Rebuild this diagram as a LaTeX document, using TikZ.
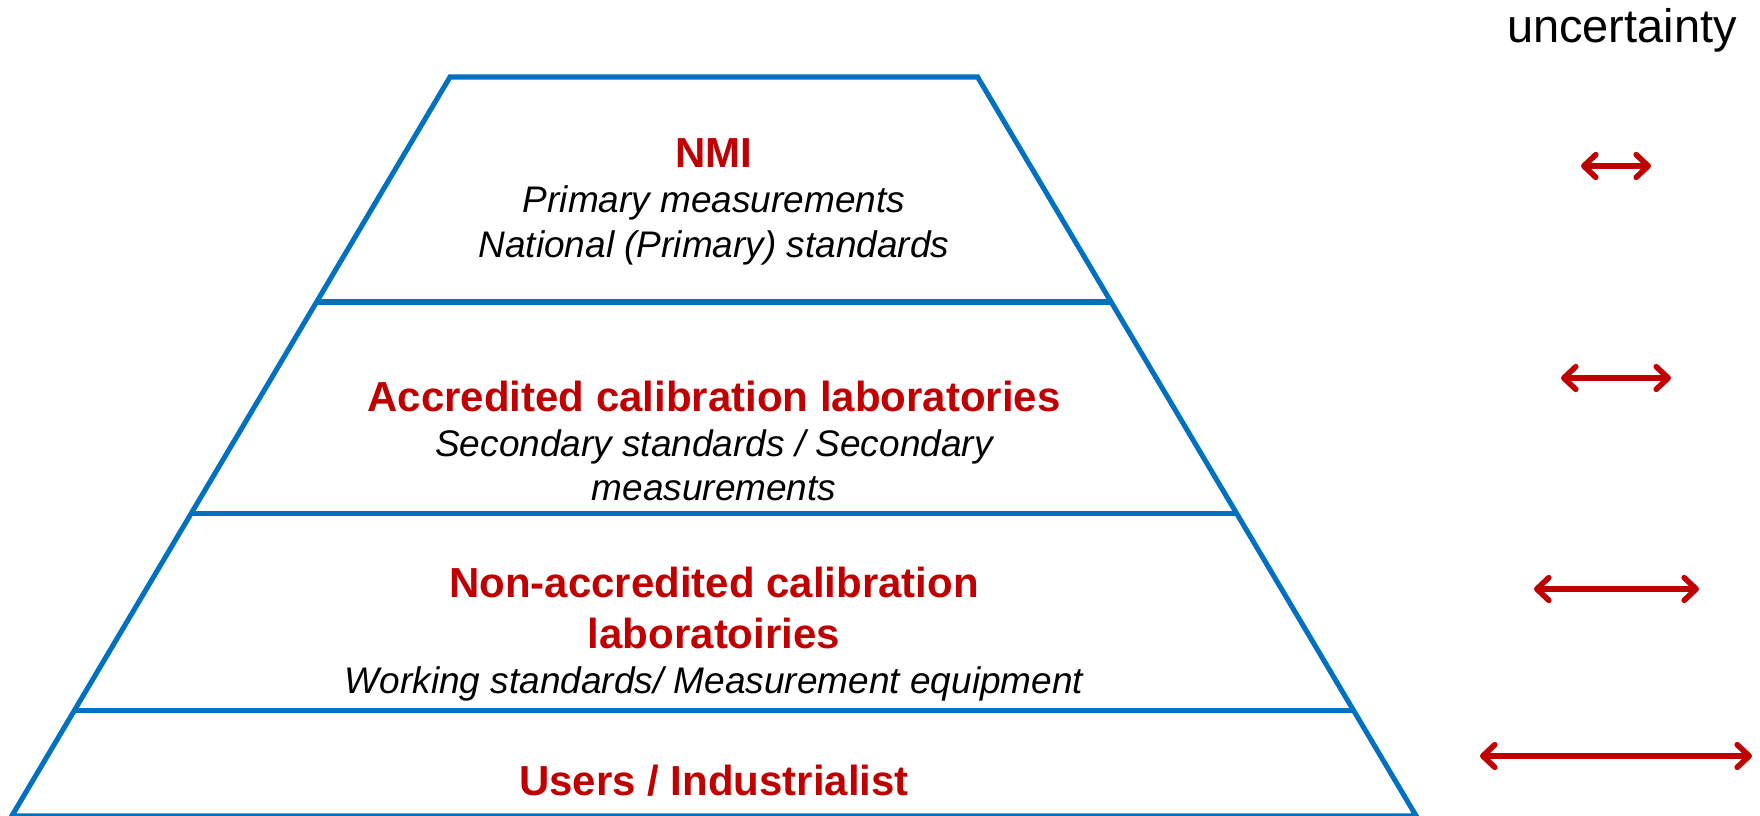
\documentclass[tikz,border=0pt]{standalone}
\usepackage{fontspec}
\setmainfont{Liberation Sans}
\usetikzlibrary{calc,arrows.meta}
\definecolor{tierblue}{HTML}{0070C0}
\definecolor{tierred}{HTML}{C00000}
\begin{document}
\begin{tikzpicture}[x=0.75pt,y=-0.75pt,
  tierline/.style={draw=tierblue,line width=3.8pt},
  title/.style={text=tierred,font=\fontsize{31.5}{36}\selectfont\bfseries,anchor=base,inner sep=0pt},
  detail/.style={font=\fontsize{27.75}{32}\selectfont\itshape,anchor=base,inner sep=0pt},
  spread/.style={draw=tierred,line width=4.2pt,line cap=round,
    {Straight Barb[length=9pt,width=17pt,line cap=round,line join=round]}-{Straight Barb[length=9pt,width=17pt,line cap=round,line join=round]}}]
\useasboundingbox (0,0) rectangle (1760,816);

% pyramid outline
\coordinate (tl) at (450,77);
\coordinate (tr) at (977.6,77);
\coordinate (br) at (1416.2,816);
\coordinate (bl) at (11.8,816);
\draw[tierline] (tl) -- (tr) -- (br) -- (bl) -- cycle;

% tier boundaries
\coordinate (l1) at ($(tl)!0.3045!(bl)$);
\coordinate (r1) at ($(tr)!0.3045!(br)$);
\coordinate (l2) at ($(tl)!0.5913!(bl)$);
\coordinate (r2) at ($(tr)!0.5913!(br)$);
\coordinate (l3) at ($(tl)!0.8572!(bl)$);
\coordinate (r3) at ($(tr)!0.8572!(br)$);
\draw[tierline] (l1) -- (r1);
\draw[tierline] (l2) -- (r2);
\draw[tierline] (l3) -- (r3);

% tier labels
\node[title]  (nmi)   at (714,168) {NMI};
\node[detail] (nmi1)  at (714,213) {Primary measurements};
\node[detail] (nmi2)  at (714,258) {National (Primary) standards};

\node[title]  (acc)   at (714,411.5) {Accredited calibration laboratories};
\node[detail] (acc1)  at (714,456.5) {Secondary standards / Secondary};
\node[detail] (acc2)  at (714,500) {measurements};

\node[title]  (non)   at (714,597) {Non-accredited calibration};
\node[title]  (non1)  at (714,648) {laboratoiries};
\node[detail] (non2)  at (714,693) {Working standards/ Measurement equipment};

\node[title]  (usr)   at (714,795) {Users / Industrialist};

% uncertainty scale
\node[font=\fontsize{35.25}{40}\selectfont,anchor=base,inner sep=0pt] (unc) at (1622,42.5) {uncertainty};

\coordinate (u1a) at (1581,166);  \coordinate (u1b) at (1651,166);
\coordinate (u2a) at (1561,378);  \coordinate (u2b) at (1671,378);
\coordinate (u3a) at (1534,589);  \coordinate (u3b) at (1699,589);
\coordinate (u4a) at (1480,756);  \coordinate (u4b) at (1752,756);
\draw[spread] (u1a) -- (u1b);
\draw[spread] (u2a) -- (u2b);
\draw[spread] (u3a) -- (u3b);
\draw[spread] (u4a) -- (u4b);
\end{tikzpicture}
\end{document}
